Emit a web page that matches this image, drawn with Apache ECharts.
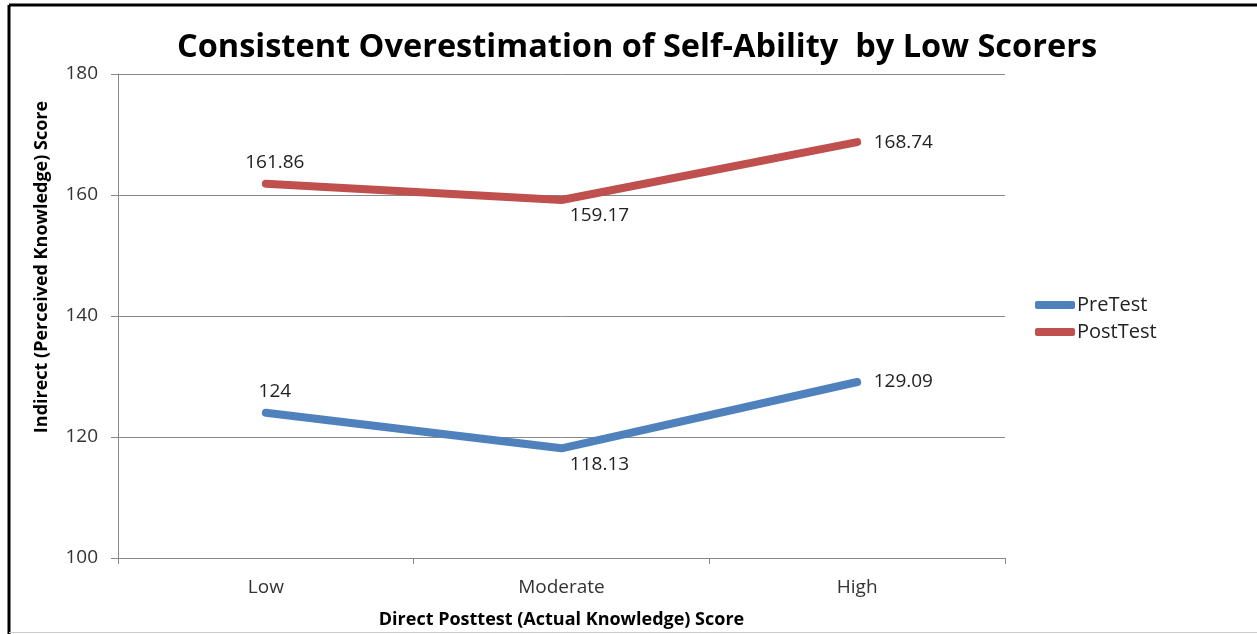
<!DOCTYPE html>
<html>
<head>
<meta charset="utf-8">
<script src="https://cdn.jsdelivr.net/npm/echarts@6/dist/echarts.min.js"></script>
<style>
html, body { margin: 0; padding: 0; background: #fff; }
#main { width: 1257px; height: 634px; }
</style>
</head>
<body>
<div id="main"></div>
<script>
var categories = ['Low', 'Moderate', 'High'];
var preTest = [124, 118.13, 129.09];
var postTest = [161.86, 159.17, 168.74];

// where each point's value label sits (Low above, Moderate below, High to the right)
var labelStyle = [
  { position: 'top', distance: 11, offset: [9, 0] },
  { position: 'bottom', distance: 6, offset: [38, 0] },
  { position: 'right', distance: 16, offset: [0, 0] }
];

var font = "'Open Sans', 'Liberation Sans', sans-serif";
var myChart = echarts.init(document.getElementById('main'));

function mkData(arr) {
  var out = [];
  for (var i = 0; i < arr.length; i++) {
    out.push({ value: arr[i], label: labelStyle[i] });
  }
  return out;
}

var option = {
  backgroundColor: '#fff',
  animation: false,
  title: {
    text: 'Consistent Overestimation of Self-Ability  by Low Scorers',
    left: 632,
    textAlign: 'center',
    top: 26,
    textStyle: { fontFamily: font, fontSize: 32.5, fontWeight: 'bold', color: '#000' }
  },
  legend: {
    orient: 'vertical',
    left: 1030,
    top: 290,
    itemWidth: 40,
    itemHeight: 8,
    itemGap: 7,
    icon: 'roundRect',
    textStyle: { fontFamily: font, fontSize: 20, color: '#222', padding: [0, 0, 0, -3] },
    data: ['PreTest', 'PostTest']
  },
  grid: { left: 118, right: 252, top: 74, bottom: 76, outerBoundsMode: 'none', containLabel: false },
  xAxis: {
    type: 'category',
    data: categories,
    boundaryGap: true,
    name: 'Direct Posttest (Actual Knowledge) Score',
    nameLocation: 'middle',
    nameGap: 53,
    nameTextStyle: { fontFamily: font, fontSize: 18, fontWeight: 'bold', color: '#000' },
    axisLine: { lineStyle: { color: '#888', width: 1 } },
    axisTick: { show: true, length: 6, lineStyle: { color: '#888' } },
    axisLabel: { fontFamily: font, fontSize: 19, color: '#333', margin: 20 }
  },
  yAxis: {
    type: 'value',
    min: 100,
    max: 180,
    interval: 20,
    axisLine: { show: true, lineStyle: { color: '#888', width: 1 } },
    axisTick: { show: true, length: 7, lineStyle: { color: '#888' } },
    axisLabel: { fontFamily: font, fontSize: 19, color: '#333', margin: 20 },
    splitLine: { lineStyle: { color: '#888', width: 1 } }
  },
  series: [
    {
      name: 'PreTest',
      type: 'line',
      data: mkData(preTest),
      symbol: 'circle',
      symbolSize: 1,
      color: '#4F81BD',
      lineStyle: { width: 8, cap: 'round', join: 'round' },
      label: { show: true, fontFamily: font, fontSize: 19, color: '#222' }
    },
    {
      name: 'PostTest',
      type: 'line',
      data: mkData(postTest),
      symbol: 'circle',
      symbolSize: 1,
      color: '#C0504D',
      lineStyle: { width: 8, cap: 'round', join: 'round' },
      label: { show: true, fontFamily: font, fontSize: 19, color: '#222' }
    }
  ],
  graphic: [
    {
      type: 'text', x: 42, y: 267, rotation: Math.PI / 2,
      style: {
        text: 'Indirect (Perceived Knowledge) Score', fontFamily: font, fontSize: 18,
        fontWeight: 'bold', fill: '#000', align: 'center', verticalAlign: 'middle'
      }
    },
    { type: 'line', shape: { x1: 9, y1: 5, x2: 1257, y2: 5 }, style: { stroke: '#000', lineWidth: 3 } },
    { type: 'line', shape: { x1: 9, y1: 5, x2: 9, y2: 634 }, style: { stroke: '#000', lineWidth: 3 } },
    { type: 'line', shape: { x1: 9, y1: 632.5, x2: 1257, y2: 632.5 }, style: { stroke: '#ccc', lineWidth: 1 } }
  ]
};

myChart.setOption(option);
</script>
</body>
</html>
